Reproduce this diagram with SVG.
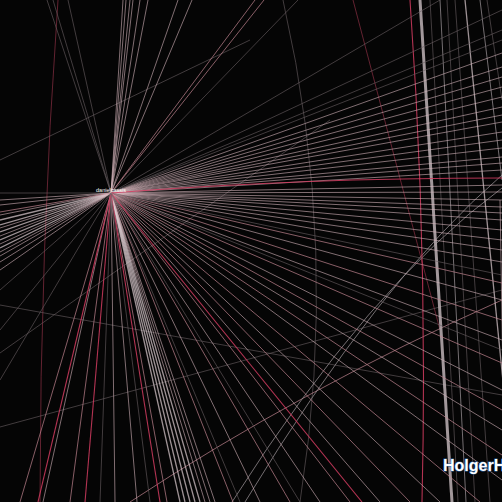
<svg xmlns="http://www.w3.org/2000/svg" width="502" height="502" viewBox="0 0 502 502">
<style>
.e{stroke:#d4b4ba;stroke-width:1;stroke-opacity:.6;fill:none}
.w{stroke:#e0cfd3;stroke-width:1.3;stroke-opacity:.7;fill:none}
.p{stroke:#c08590;stroke-width:1;stroke-opacity:.7;fill:none}
.r{stroke:#d23c60;stroke-width:1.1;stroke-opacity:.85;fill:none}
.dr{stroke:#7a2a3c;stroke-width:1;stroke-opacity:.8;fill:none}
.d{stroke:#6a6064;stroke-width:1;stroke-opacity:.6;fill:none}
.g{stroke:#9a9296;stroke-width:1;stroke-opacity:.75;fill:none}
.t{stroke:#b4a8ac;stroke-width:3;stroke-opacity:.9;fill:none}
.lbl{font-family:"Liberation Sans",Arial,sans-serif;fill:#ffffff}
</style>
<rect width="502" height="502" fill="#050505"/>
<g id="edges">
<path class="dr" d="M58,0 Q40,250 40,502"/>
<path class="dr" d="M353,0 L440,330"/>
<path class="d" d="M283,0 Q340,250 300,502"/>
<path class="d" d="M0,305 L502,395"/>
<path class="d" d="M0,353 L330,120"/>
<path class="d" d="M0,427 L502,290"/>
<path class="d" d="M0,160 L250,40"/>
<path class="p" d="M130,502 Q300,390 502,300"/>
<path class="g" d="M245,502 Q380,280 502,175"/>
<path class="g" d="M232,502 Q370,285 502,188"/>
<path class="r" d="M410,0 Q428,250 422,502"/>
<path class="t" d="M420,0 L452,502"/>
<path class="d" d="M430,0 L458,502"/>
<path class="g" d="M440,0 L466,502"/>
<path class="d" d="M447,0 L475,502"/>
<path class="d" d="M455,0 L490,502"/>
<path class="w" d="M465,0 L515,502"/>
<path class="g" d="M480,0 L502,180"/>
<path class="d" d="M487,0 L502,100"/>
<path class="e" d="M500,200 L505,502"/>
<g transform="translate(111,193)">
<line class="e" x2="12" y2="-193"/><line class="e" x2="15" y2="-193"/><line class="e" x2="19" y2="-193"/>
<line class="e" x2="22" y2="-193"/><line class="e" x2="29" y2="-193"/><line class="e" x2="37" y2="-193"/>
<line class="e" x2="67" y2="-193"/><line class="e" x2="81" y2="-193"/>
<line class="p" x2="144" y2="-193"/><line class="p" x2="153" y2="-193"/>
<line class="d" x2="-64" y2="-193"/><line class="d" x2="-58" y2="-193"/><line class="d" x2="-43" y2="-193"/>
<line class="d" x2="329" y2="-193"/><line class="d" x2="187" y2="-193"/>
<line class="d" x2="391" y2="-183"/><line class="d" x2="391" y2="-153"/>
<line class="e" x2="391" y2="-140"/><line class="e" x2="391" y2="-126"/><line class="e" x2="391" y2="-116"/>
<line class="e" x2="391" y2="-106"/><line class="e" x2="391" y2="-96"/><line class="e" x2="391" y2="-86"/>
<line class="e" x2="391" y2="-78"/><line class="e" x2="391" y2="-71"/><line class="e" x2="391" y2="-61"/>
<line class="e" x2="391" y2="-53"/><line class="e" x2="391" y2="-45"/><line class="e" x2="391" y2="-36"/>
<line class="e" x2="391" y2="-30"/><line class="e" x2="391" y2="-23"/><line class="e" x2="391" y2="-8"/>
<line class="e" x2="391" y2="-1"/><line class="e" x2="391" y2="7"/><line class="e" x2="391" y2="14"/>
<line class="e" x2="391" y2="20"/><line class="e" x2="391" y2="27"/><line class="e" x2="391" y2="37"/>
<line class="e" x2="391" y2="47"/><line class="e" x2="391" y2="57"/><line class="e" x2="391" y2="69"/>
<line class="p" x2="391" y2="90"/><line class="e" x2="391" y2="107"/><line class="p" x2="391" y2="127"/>
<line class="e" x2="391" y2="147"/><line class="p" x2="391" y2="170"/><line class="e" x2="391" y2="197"/>
<line class="p" x2="391" y2="217"/><line class="e" x2="391" y2="237"/><line class="p" x2="391" y2="262"/>
<line class="e" x2="391" y2="287"/>
<line class="d" x2="391" y2="-163"/><line class="d" x2="391" y2="82"/><line class="d" x2="391" y2="157"/>
<path class="r" d="M0,0 Q190,-15 391,-15"/>
<line class="p" x2="-91" y2="309"/><line class="e" x2="-68" y2="309"/><line class="p" x2="-41" y2="309"/>
<line class="e" x2="4" y2="309"/><line class="e" x2="26" y2="309"/><line class="p" x2="56" y2="309"/>
<line class="w" x2="69" y2="309"/><line class="w" x2="74" y2="309"/><line class="w" x2="79" y2="309"/>
<line class="w" x2="84" y2="309"/><line class="w" x2="89" y2="309"/><line class="e" x2="94" y2="309"/>
<line class="e" x2="99" y2="309"/><line class="e" x2="104" y2="309"/><line class="p" x2="122" y2="309"/>
<line class="e" x2="149" y2="309"/><line class="p" x2="179" y2="309"/><line class="e" x2="209" y2="309"/>
<line class="p" x2="239" y2="309"/><line class="e" x2="269" y2="309"/><line class="p" x2="299" y2="309"/>
<line class="e" x2="329" y2="309"/><line class="p" x2="369" y2="309"/>
<line class="r" x2="-73" y2="309"/><line class="r" x2="-26" y2="309"/><line class="r" x2="49" y2="309"/>
<line class="r" x2="251" y2="309"/>
<line class="d" x2="-11" y2="309"/><line class="d" x2="39" y2="309"/><line class="d" x2="129" y2="309"/>
<line class="d" x2="189" y2="309"/>
<line class="d" x2="-111" y2="0"/><line class="e" x2="-111" y2="7"/><line class="e" x2="-111" y2="12"/>
<line class="e" x2="-111" y2="22"/><line class="w" x2="-111" y2="27"/><line class="w" x2="-111" y2="32"/>
<line class="e" x2="-111" y2="35"/><line class="w" x2="-111" y2="39"/><line class="e" x2="-111" y2="43"/>
<line class="w" x2="-111" y2="47"/><line class="e" x2="-111" y2="51"/><line class="w" x2="-111" y2="55"/>
<line class="e" x2="-111" y2="59"/><line class="e" x2="-111" y2="63"/><line class="e" x2="-111" y2="69"/>
<line class="e" x2="-111" y2="77"/>
<line class="p" x2="-111" y2="19"/>
<line class="d" x2="-111" y2="97"/><line class="d" x2="-111" y2="137"/><line class="d" x2="-111" y2="187"/>
</g>
</g>
<g id="node-danielcassis">
<text class="lbl" x="111" y="192" font-size="5.5" text-anchor="middle">danielcassis</text>
</g>
<g id="node-HolgerH">
<text class="lbl" x="443" y="471" font-size="16" font-weight="bold" stroke="#2a5d9a" stroke-width="1" paint-order="stroke">HolgerH</text>
</g>
</svg>
